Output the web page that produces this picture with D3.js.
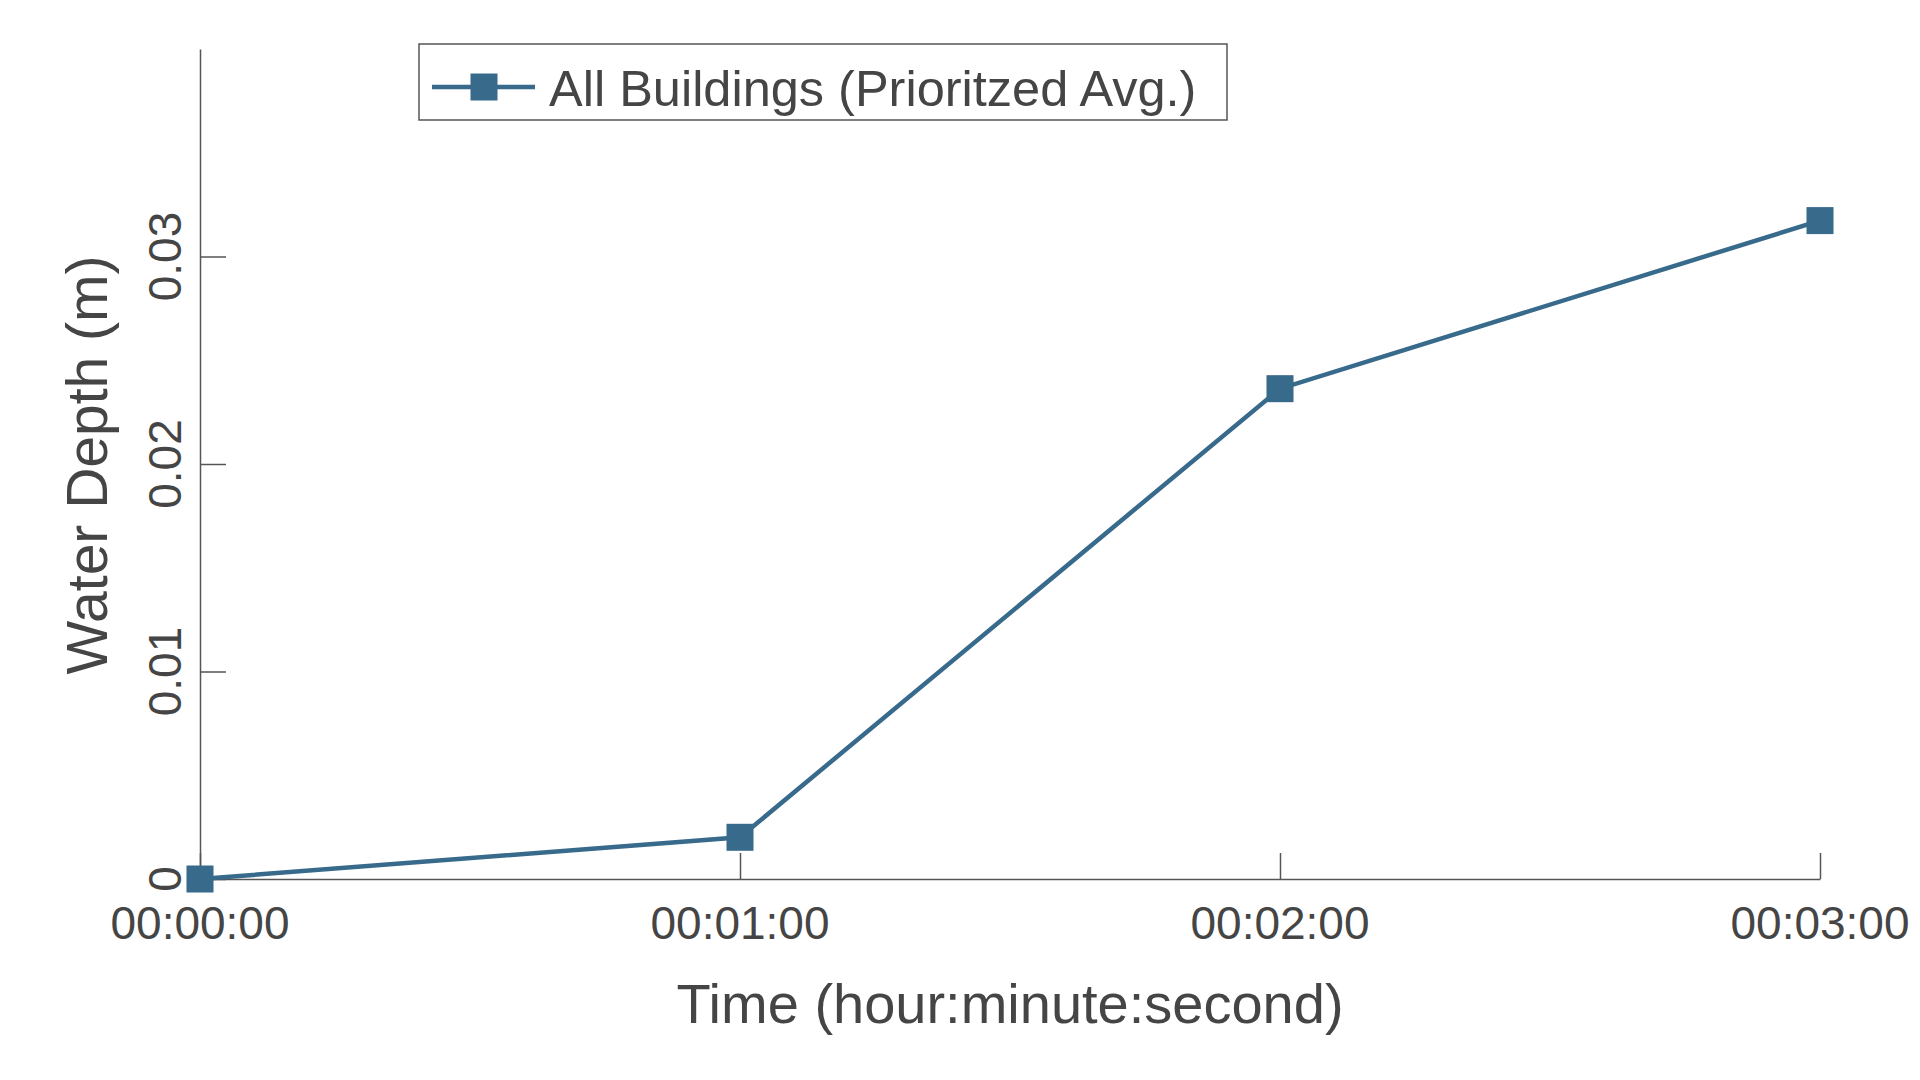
<!DOCTYPE html>
<html>
<head>
<meta charset="utf-8">
<script src="https://cdn.jsdelivr.net/npm/d3@7"></script>
<style>
  body { margin: 0; background: #fff; }
  svg text { font-family: "Liberation Sans", Arial, sans-serif; fill: #454545; }
</style>
</head>
<body>
<div id="chart"></div>
<script>
// data: time in seconds, depth in metres
var times = [0, 60, 120, 180];
var depths = [0, 0.00201, 0.02363, 0.03173];
var xTicks = [0, 60, 120, 180];
var xTickLabels = ["00:00:00", "00:01:00", "00:02:00", "00:03:00"];
var yTicks = [0, 0.01, 0.02, 0.03];
var yTickLabels = ["0", "0.01", "0.02", "0.03"];
var seriesName = "All Buildings (Prioritzed Avg.)";

var svgWidth = 1920;
var svgHeight = 1080;
var lineColor = "#386a8c";
var axisColor = "#555";

var svg = d3.select("#chart")
  .append("svg")
  .attr("width", svgWidth)
  .attr("height", svgHeight);

var xScale = d3.scaleLinear().domain([0, 180]).range([200, 1820]);
var yScale = d3.scaleLinear().domain([0, 0.04]).range([879, 49]);

// axes: ticks point inward, labels drawn separately
var xAxis = svg.append("g")
  .attr("transform", "translate(0, 879)")
  .call(d3.axisBottom(xScale).tickValues(xTicks).tickSizeInner(-26).tickSizeOuter(0).tickFormat(""));

var yAxis = svg.append("g")
  .attr("transform", "translate(200, 0)")
  .call(d3.axisLeft(yScale).tickValues(yTicks).tickSizeInner(-26).tickSizeOuter(0).tickFormat(""));

svg.selectAll(".domain, .tick line")
  .attr("stroke", axisColor)
  .attr("stroke-width", 1.5);

// x tick labels
svg.append("g").selectAll("text")
  .data(xTicks)
  .enter()
  .append("text")
  .attr("x", d => xScale(d))
  .attr("y", 939)
  .attr("text-anchor", "middle")
  .style("font-size", "46px")
  .text((d, i) => xTickLabels[i]);

// y tick labels, rotated
svg.append("g").selectAll("text")
  .data(yTicks)
  .enter()
  .append("text")
  .attr("transform", d => `translate(181, ${yScale(d)}) rotate(-90)`)
  .attr("text-anchor", "middle")
  .style("font-size", "46px")
  .text((d, i) => yTickLabels[i]);

// axis titles
svg.append("text")
  .attr("x", 1010)
  .attr("y", 1023)
  .attr("text-anchor", "middle")
  .style("font-size", "56px")
  .text("Time (hour:minute:second)");

svg.append("text")
  .attr("transform", "translate(107, 465) rotate(-90)")
  .attr("text-anchor", "middle")
  .style("font-size", "57px")
  .text("Water Depth (m)");

// series line + square markers
var points = times.map((t, i) => ({ t: t, v: depths[i] }));

var line = d3.line()
  .x(d => xScale(d.t))
  .y(d => yScale(d.v));

svg.append("path")
  .datum(points)
  .attr("fill", "none")
  .attr("stroke", lineColor)
  .attr("stroke-width", 4.5)
  .attr("d", line);

var markerSize = 27;
svg.append("g").selectAll("rect")
  .data(points)
  .enter()
  .append("rect")
  .attr("x", d => xScale(d.t) - markerSize / 2)
  .attr("y", d => yScale(d.v) - markerSize / 2)
  .attr("width", markerSize)
  .attr("height", markerSize)
  .attr("fill", lineColor);

// legend
var legend = svg.append("g");

legend.append("rect")
  .attr("x", 419)
  .attr("y", 44)
  .attr("width", 808)
  .attr("height", 76)
  .attr("fill", "#fff")
  .attr("stroke", axisColor)
  .attr("stroke-width", 1.5);

legend.append("line")
  .attr("x1", 432)
  .attr("x2", 535)
  .attr("y1", 87)
  .attr("y2", 87)
  .attr("stroke", lineColor)
  .attr("stroke-width", 4.5);

legend.append("rect")
  .attr("x", 484 - markerSize / 2)
  .attr("y", 87 - markerSize / 2)
  .attr("width", markerSize)
  .attr("height", markerSize)
  .attr("fill", lineColor);

legend.append("text")
  .attr("x", 549)
  .attr("y", 106)
  .style("font-size", "50.5px")
  .text(seriesName);
</script>
</body>
</html>
